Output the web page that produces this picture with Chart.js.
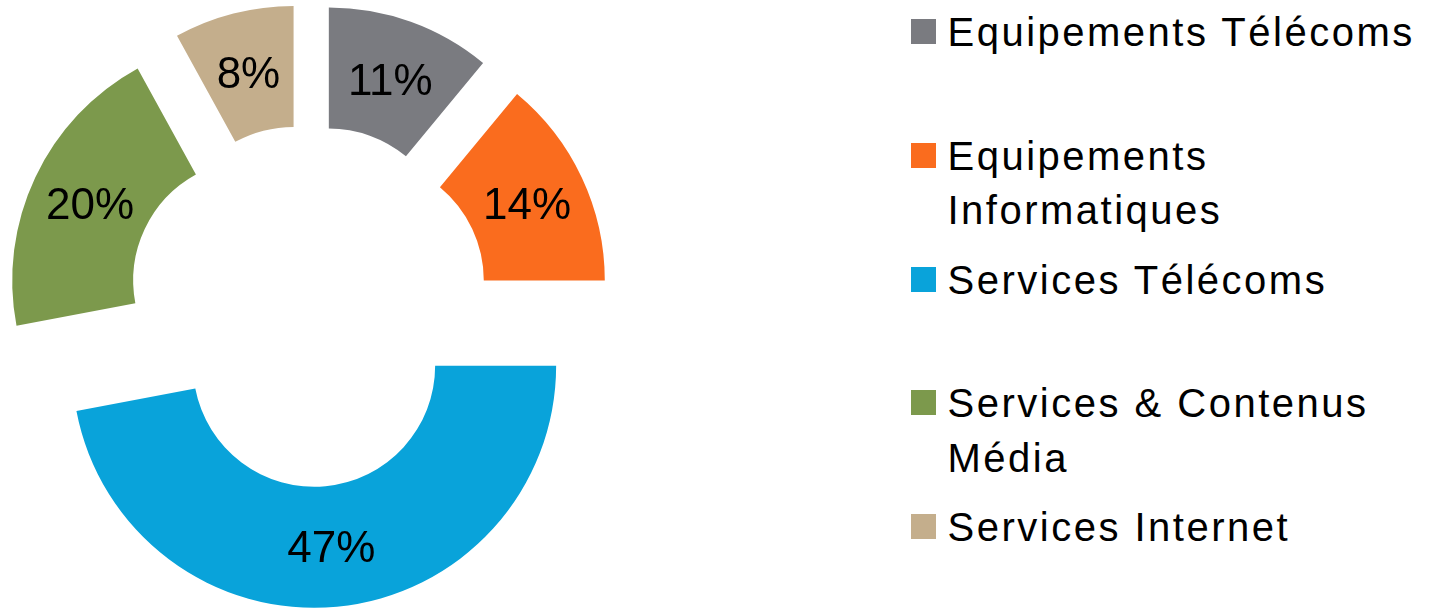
<!DOCTYPE html>
<html lang="fr">
<head>
<meta charset="utf-8">
<title>Répartition par segment</title>
<script src="https://cdn.jsdelivr.net/npm/chart.js@4.4.1/dist/chart.umd.min.js"></script>
<style>
    html, body { margin: 0; padding: 0; background: #fff; }
    #page { position: relative; width: 1439px; height: 609px; overflow: hidden;
            font-family: "Liberation Sans", Arial, sans-serif; }
    #chart-wrap { position: absolute; left: 0; top: 0; width: 617px; height: 609px; }
    .legend-item { position: absolute; left: 911px; }
    .legend-box { position: absolute; left: 0; top: 0; width: 25px; height: 25px; }
    .legend-text { position: absolute; left: 36.5px; top: -14px; white-space: nowrap;
                   font-size: 40px; line-height: 54.5px; letter-spacing: 2.5px; color: #000; }
</style>
</head>
<body>
<div id="page">
    <div id="chart-wrap"><canvas id="chart"></canvas></div>
    <div id="legend"></div>
</div>
<script>
// Segments, clockwise from 12 o'clock. Two-line labels are arrays (one entry per line).
const categories = [
    'Equipements Télécoms',
    ['Equipements', 'Informatiques'],
    'Services Télécoms',
    ['Services & Contenus', 'Média'],
    'Services Internet'
];
const shares = [11, 14, 47, 20, 8];   // percent

const SLICE_COLORS = ['#7a7b80', '#fa6c1e', '#09a3da', '#7c994c', '#c4ae8c'];

const RADIUS = 242;        // outer radius, px
const EXPLODE = 60;        // every slice pushed out along its own bisector, px
const LABEL_SIZE = 44;
const LEGEND_TOP = 19;
const LEGEND_STEP = 123.75;

// Chart.js's own `offset` also inflates the radius of each arc, so the slices are
// translated here instead and then drawn by the ArcElement itself.
const explodedSlices = {
    id: 'explodedSlices',
    beforeDatasetDraw(chart, args) {
        const ctx = chart.ctx;
        args.meta.data.forEach(arc => {
            const mid = (arc.startAngle + arc.endAngle) / 2;
            ctx.save();
            ctx.translate(Math.cos(mid) * EXPLODE, Math.sin(mid) * EXPLODE);
            arc.draw(ctx);
            ctx.restore();
        });
        return false;
    }
};

// percentage in the middle of each (shifted) ring segment; baseline set so the
// digits' cap height is centred on that point
const sliceLabels = {
    id: 'sliceLabels',
    afterDatasetsDraw(chart) {
        const ctx = chart.ctx;
        const meta = chart.getDatasetMeta(0);
        const values = chart.data.datasets[0].data;
        ctx.save();
        ctx.font = LABEL_SIZE + 'px "Liberation Sans", Arial, sans-serif';
        ctx.fillStyle = '#000';
        ctx.textAlign = 'center';
        ctx.textBaseline = 'alphabetic';
        meta.data.forEach((arc, i) => {
            const mid = (arc.startAngle + arc.endAngle) / 2;
            const dist = EXPLODE + (arc.innerRadius + arc.outerRadius) / 2;
            const x = arc.x + Math.cos(mid) * dist;
            const y = arc.y + Math.sin(mid) * dist;
            ctx.fillText(values[i] + '%', x, y + LABEL_SIZE * 0.36);
        });
        ctx.restore();
    }
};

const chart = new Chart(document.getElementById('chart'), {
    type: 'doughnut',
    data: {
        labels: categories,
        datasets: [{
            data: shares,
            backgroundColor: SLICE_COLORS,
            borderWidth: 0,
            hoverOffset: 0
        }]
    },
    options: {
        responsive: true,
        maintainAspectRatio: false,
        animation: false,
        events: [],
        radius: RADIUS,
        cutout: '50%',
        layout: { padding: { top: 3 } },
        plugins: {
            legend: { display: false },
            tooltip: { enabled: false }
        }
    },
    plugins: [explodedSlices, sliceLabels]
});

// HTML legend built from the chart's own legend items
const legendEl = document.getElementById('legend');
chart.options.plugins.legend.labels.generateLabels(chart).forEach((item, i) => {
    const row = document.createElement('div');
    row.className = 'legend-item';
    row.style.top = (LEGEND_TOP + i * LEGEND_STEP) + 'px';

    const box = document.createElement('span');
    box.className = 'legend-box';
    box.style.background = item.fillStyle;

    const text = document.createElement('div');
    text.className = 'legend-text';
    [].concat(item.text).forEach((line, k) => {
        if (k > 0) text.appendChild(document.createElement('br'));
        text.appendChild(document.createTextNode(line));
    });

    row.appendChild(box);
    row.appendChild(text);
    legendEl.appendChild(row);
});
</script>
</body>
</html>
